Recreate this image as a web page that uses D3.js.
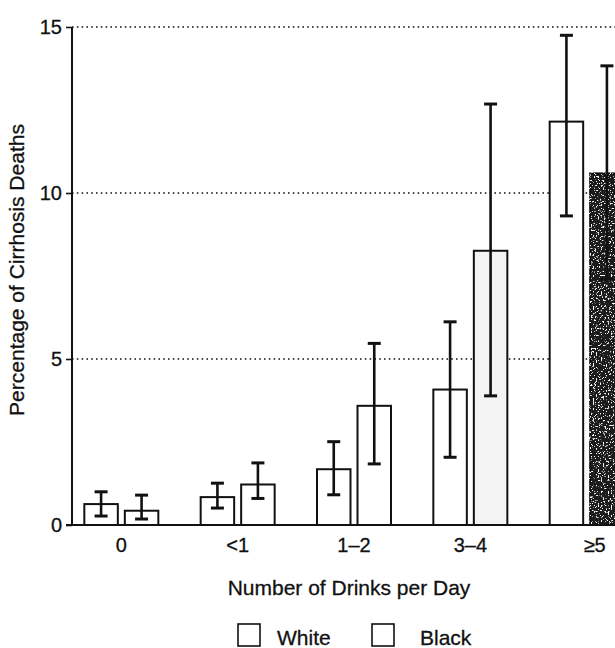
<!DOCTYPE html>
<html>
<head>
<meta charset="utf-8">
<script src="https://cdn.jsdelivr.net/npm/d3@7"></script>
<style>
  html, body { margin: 0; padding: 0; background: #fff; }
  svg { display: block; font-family: "Liberation Sans", Arial, Helvetica, sans-serif; }
  svg text { stroke: #111; stroke-width: 0.3px; }
</style>
</head>
<body>
<div id="chart"></div>
<script>
// chart values
var categories = ["0", "<1", "1\u20132", "3\u20134", "\u22655"];
var series = ["White", "Black"];
var whiteVals = [0.63, 0.84, 1.68, 4.08, 12.15];
var whiteLo   = [0.27, 0.51, 0.91, 2.04, 9.31];
var whiteHi   = [1.00, 1.26, 2.51, 6.12, 14.75];
var blackVals = [0.43, 1.22, 3.59, 8.26, 10.59];
var blackLo   = [0.18, 0.80, 1.84, 3.89, 7.40];
var blackHi   = [0.90, 1.87, 5.47, 12.68, 13.83];
var yTicks = [0, 5, 10, 15];

var width = 615, height = 648;
var margin = {top: 27, left: 72, bottom: 123};

// fills of the black bars in the scan (light stipple / dark stipple)
var blackFill = {"3\u20134": "#f3f3f3", "\u22655": "#1e1e1e"};

var svg = d3.select("#chart").append("svg")
    .attr("width", width)
    .attr("height", height);

// speckle texture for the dark bar
var defs = svg.append("defs");
var f = defs.append("filter").attr("id", "stipple")
    .attr("x", -0.2).attr("y", -0.05).attr("width", 1.4).attr("height", 1.1);
f.append("feTurbulence")
    .attr("type", "fractalNoise")
    .attr("baseFrequency", 0.6)
    .attr("numOctaves", 2)
    .attr("seed", 4)
    .attr("result", "noise");
f.append("feColorMatrix")
    .attr("in", "noise")
    .attr("type", "matrix")
    .attr("values", "0 0 0 0 1  0 0 0 0 1  0 0 0 0 1  -10 0 0 0 4.0")
    .attr("result", "specks");
f.append("feComposite")
    .attr("in", "specks")
    .attr("in2", "SourceGraphic")
    .attr("operator", "in")
    .attr("result", "clipped");
var fm = f.append("feMerge");
fm.append("feMergeNode").attr("in", "SourceGraphic");
fm.append("feMergeNode").attr("in", "clipped");

var y = d3.scaleLinear()
    .domain([0, 15])
    .range([height - margin.bottom, margin.top]);

var x = d3.scaleBand()
    .domain(categories)
    .range([margin.left, margin.left + 564])
    .paddingInner(0.364)
    .paddingOuter(0.106);

var xs = d3.scaleBand()
    .domain(series)
    .range([0, x.bandwidth()])
    .paddingInner(0.173);

var rows = categories.map(function(c, i) {
    return {
        cat: c,
        bars: [
            {s: "White", v: whiteVals[i], lo: whiteLo[i], hi: whiteHi[i]},
            {s: "Black", v: blackVals[i], lo: blackLo[i], hi: blackHi[i]}
        ]
    };
});

// dotted grid lines
svg.append("g")
    .selectAll("line")
    .data(yTicks.filter(function(d) { return d > 0; }))
    .enter().append("line")
    .attr("x1", margin.left)
    .attr("x2", width)
    .attr("y1", function(d) { return y(d); })
    .attr("y2", function(d) { return y(d); })
    .attr("stroke", "#111")
    .attr("stroke-width", 1.6)
    .attr("stroke-dasharray", "1.6,3.2");

// bars
var groups = svg.append("g")
    .selectAll("g")
    .data(rows)
    .enter().append("g")
    .attr("transform", function(d) { return "translate(" + x(d.cat) + ",0)"; });

groups.selectAll("rect")
    .data(function(d) { return d.bars.map(function(b) { b.cat = d.cat; return b; }); })
    .enter().append("rect")
    .attr("x", function(d) { return xs(d.s); })
    .attr("y", function(d) { return y(d.v); })
    .attr("width", xs.bandwidth())
    .attr("height", function(d) { return y(0) - y(d.v); })
    .attr("fill", function(d) {
        if (d.s === "Black" && blackFill[d.cat]) return blackFill[d.cat];
        return "#fff";
    })
    .attr("filter", function(d) { return d.s === "Black" && d.cat === "\u22655" ? "url(#stipple)" : null; })
    .attr("stroke", "#111")
    .attr("stroke-width", 2);

// error bars
var capW = 13;
var eb = groups.selectAll("g.err")
    .data(function(d) { return d.bars; })
    .enter().append("g")
    .attr("class", "err")
    .attr("transform", function(d) { return "translate(" + (xs(d.s) + xs.bandwidth() / 2) + ",0)"; });

eb.append("line")
    .attr("x1", 0).attr("x2", 0)
    .attr("y1", function(d) { return y(d.lo); })
    .attr("y2", function(d) { return y(d.hi); })
    .attr("stroke", "#111")
    .attr("stroke-width", 2.6);

eb.selectAll("line.cap")
    .data(function(d) { return [d.lo, d.hi]; })
    .enter().append("line")
    .attr("class", "cap")
    .attr("x1", -capW / 2).attr("x2", capW / 2)
    .attr("y1", function(d) { return y(d); })
    .attr("y2", function(d) { return y(d); })
    .attr("stroke", "#111")
    .attr("stroke-width", 3);

// y axis
var yAxis = svg.append("g")
    .attr("transform", "translate(" + margin.left + ",0)")
    .call(d3.axisLeft(y).tickValues(yTicks).tickSize(6).tickPadding(4));
yAxis.select(".domain").attr("stroke", "#111").attr("stroke-width", 2)
    .attr("d", "M0," + y(15) + "V" + y(0));
yAxis.selectAll(".tick line").attr("stroke", "#111").attr("stroke-width", 1.6);
yAxis.selectAll(".tick text")
    .attr("font-size", 20)
    .attr("font-family", "'Liberation Sans', Arial, sans-serif")
    .attr("fill", "#111");

// x axis
var xAxis = svg.append("g")
    .attr("transform", "translate(0," + y(0) + ")")
    .call(d3.axisBottom(x).tickSize(0).tickPadding(13));
xAxis.select(".domain").attr("stroke", "#111").attr("stroke-width", 2.2)
    .attr("d", "M" + (margin.left - 6) + ",0H" + width);
xAxis.selectAll(".tick text")
    .attr("font-size", 20)
    .attr("font-family", "'Liberation Sans', Arial, sans-serif")
    .attr("fill", "#111")
    .attr("dx", function(d) { return d === "\u22655" ? 8 : 0; });

// axis titles
svg.append("text")
    .attr("transform", "translate(24,270) rotate(-90)")
    .attr("text-anchor", "middle")
    .attr("font-size", 21)
    .attr("fill", "#111")
    .text("Percentage of Cirrhosis Deaths");

svg.append("text")
    .attr("x", 349)
    .attr("y", 595)
    .attr("text-anchor", "middle")
    .attr("font-size", 21)
    .attr("fill", "#111")
    .text("Number of Drinks per Day");

// legend
var legendX = [238, 372];
var lg = svg.append("g")
    .selectAll("g")
    .data(series)
    .enter().append("g")
    .attr("transform", function(d, i) { return "translate(" + legendX[i] + ",624)"; });

lg.append("rect")
    .attr("width", 22)
    .attr("height", 22)
    .attr("fill", "#fff")
    .attr("stroke", "#111")
    .attr("stroke-width", 1.6);

lg.append("text")
    .attr("x", function(d, i) { return i === 0 ? 39 : 48; })
    .attr("y", 21)
    .attr("font-size", 21)
    .attr("fill", "#111")
    .text(function(d) { return d; });
</script>
</body>
</html>
